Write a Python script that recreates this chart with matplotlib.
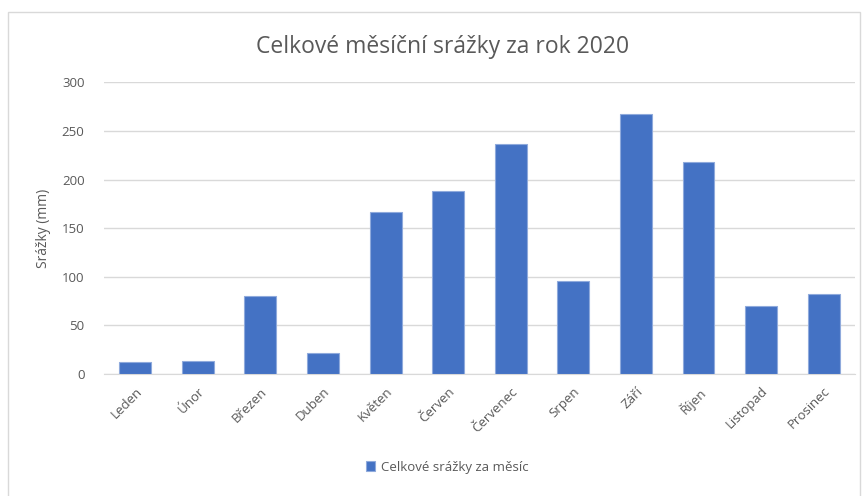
import matplotlib.pyplot as plt
from matplotlib.patches import Rectangle

# monthly precipitation totals 2020 (mm)
mesice = ["Leden", "Únor", "Březen", "Duben", "Květen", "Červen",
          "Červenec", "Srpen", "Září", "Říjen", "Listopad", "Prosinec"]
srazky = [12, 13, 80, 21, 167, 188, 237, 96, 268, 218, 70, 82]
y_ticks = [0, 50, 100, 150, 200, 250, 300]

text_col = "#595959"
grid_col = "#d9d9d9"
bar_col = "#4472C4"

plt.rcParams["font.family"] = ["Open Sans", "DejaVu Sans"]

fig = plt.figure(figsize=(8.65, 4.96), dpi=100)
fig.patches.append(Rectangle((8 / 865, -0.01), 852 / 865, 1 - 12 / 496 + 0.01,
                             transform=fig.transFigure, fill=False,
                             edgecolor=grid_col, linewidth=1))

ax = fig.add_axes([0.1202, 0.2466, 0.8682, 0.5871])
x = list(range(len(mesice)))
ax.bar(x, srazky, width=0.51, color=bar_col, edgecolor="#8faadc",
       linewidth=0.8, zorder=3, label="Celkové srážky za měsíc")

ax.set_xlim(-0.5, len(mesice) - 0.5)
ax.set_ylim(0, 300)
ax.set_yticks(y_ticks)
ax.yaxis.grid(True, color=grid_col, linewidth=1)
ax.set_axisbelow(True)
for s in ["top", "right", "left"]:
    ax.spines[s].set_visible(False)
ax.spines["bottom"].set_color(grid_col)
ax.tick_params(axis="both", length=0, colors=text_col, labelsize=9.5)
ax.tick_params(axis="y", pad=14)
ax.set_xticks(x)
ax.set_xticklabels(mesice, rotation=45, ha="right", rotation_mode="anchor")
ax.tick_params(axis="x", pad=8)

ax.set_ylabel("Srážky (mm)", color=text_col, fontsize=10, labelpad=8)
fig.text(0.512, 0.905, "Celkové měsíční srážky za rok 2020", ha="center",
         va="center", fontsize=16.5, color=text_col)

leg = fig.legend(loc="center", bbox_to_anchor=(0.517, 0.058), frameon=False,
                 fontsize=9.5, handlelength=0.7, handleheight=0.7,
                 handletextpad=0.4)
for t in leg.get_texts():
    t.set_color(text_col)

fig.savefig("out.png", dpi=100)
